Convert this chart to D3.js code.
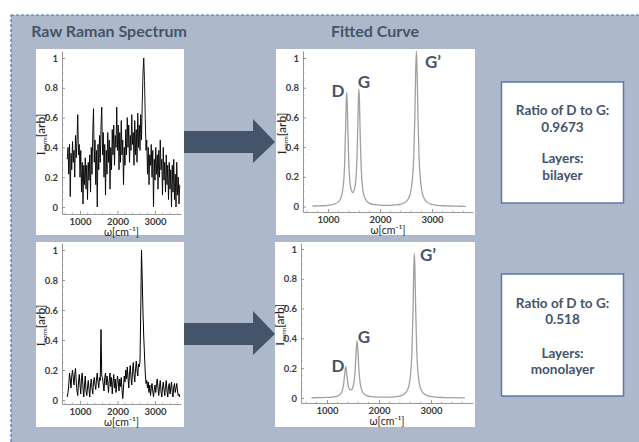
<!DOCTYPE html>
<html><head><meta charset="utf-8">
<script src="https://cdn.jsdelivr.net/npm/d3@7"></script>
<style>html,body{margin:0;padding:0;background:#fff;}svg{display:block;}</style>
</head><body>
<script>
// ---------- DATA ----------
const panelTitles = ["Raw Raman Spectrum", "Fitted Curve"];
const yTicks = [0, 0.2, 0.4, 0.6, 0.8, 1];
const yTickLabels = ["0", "0.2", "0.4", "0.6", "0.8", "1"];
const xTicks = [1000, 2000, 3000];
const xTickLabels = ["1000", "2000", "3000"];
const peakLabels = ["D", "G", "G\u2019"];

const rawX = [660,680,700,720,740,760,780,800,820,840,
  860,880,900,920,940,960,980,1000,1020,1040,
  1060,1080,1100,1120,1140,1160,1180,1200,1220,1240,
  1260,1280,1300,1320,1340,1360,1380,1400,1420,1440,
  1460,1480,1500,1520,1540,1560,1580,1600,1620,1640,
  1660,1680,1700,1720,1740,1760,1780,1800,1820,1840,
  1860,1880,1900,1920,1940,1960,1980,2000,2020,2040,
  2060,2080,2100,2120,2140,2160,2180,2200,2220,2240,
  2260,2280,2300,2320,2340,2360,2380,2400,2420,2440,
  2460,2480,2500,2520,2540,2560,2580,2600,2620,2640,
  2660,2680,2700,2720,2740,2760,2780,2800,2820,2840,
  2860,2880,2900,2920,2940,2960,2980,3000,3020,3040,
  3060,3080,3100,3120,3140,3160,3180,3200,3220,3240,
  3260,3280,3300,3320,3340,3360,3380,3400,3420,3440,
  3460,3480,3500,3520,3540,3560,3580,3600,3620,3640,
  3660];
const rawTop = [0.32,0.40,0.22,0.42,0.07,0.36,0.25,0.44,0.30,0.38,
  0.20,0.48,0.33,0.45,0.62,0.35,0.42,0.20,0.38,0.10,
  0.30,0.02,0.28,0.15,0.33,0.12,0.28,0.05,0.30,0.18,
  0.35,0.10,0.40,0.22,0.50,0.66,0.30,0.45,0.15,0.38,
  0.00,0.42,0.25,0.48,0.30,0.55,0.67,0.35,0.50,0.20,
  0.42,0.08,0.38,0.22,0.50,0.30,0.45,0.12,0.40,0.25,
  0.52,0.35,0.55,0.28,0.48,0.40,0.67,0.38,0.55,0.25,
  0.50,0.30,0.58,0.35,0.45,0.15,0.40,0.28,0.52,0.35,
  0.60,0.40,0.55,0.30,0.48,0.38,0.62,0.42,0.50,0.28,
  0.58,0.35,0.52,0.30,0.63,0.40,0.55,0.38,0.62,0.45,
  0.70,0.90,1.00,0.85,0.60,0.38,0.45,0.22,0.40,0.15,
  0.35,0.28,0.42,0.20,0.38,0.00,0.32,0.18,0.40,0.22,
  0.35,0.12,0.38,0.20,0.45,0.25,0.32,0.08,0.40,0.18,
  0.30,0.10,0.35,0.15,0.28,0.05,0.30,0.12,0.25,0.00,
  0.28,0.10,0.32,0.05,0.22,0.00,0.30,0.08,0.20,0.02,
  0.15];
const rawBottom = [0.02,0.05,0.10,0.18,0.14,0.08,0.16,0.20,0.15,0.10,
  0.17,0.21,0.12,0.06,0.03,0.12,0.17,0.10,0.04,0.15,
  0.18,0.08,0.02,0.10,0.16,0.06,0.03,0.08,0.13,0.07,
  0.02,0.10,0.14,0.08,0.04,0.12,0.15,0.10,0.07,0.14,
  0.18,0.12,0.08,0.15,0.13,0.47,0.16,0.15,0.10,0.06,
  0.15,0.18,0.10,0.16,0.12,0.05,0.13,0.18,0.09,0.15,
  0.04,0.12,0.17,0.08,0.14,0.05,0.10,0.16,0.12,0.06,
  0.14,0.09,0.15,0.07,0.01,0.08,0.16,0.12,0.20,0.14,
  0.22,0.15,0.08,0.18,0.23,0.15,0.10,0.19,0.25,0.17,
  0.12,0.20,0.26,0.20,0.16,0.24,0.22,0.26,0.60,1.00,
  0.80,0.58,0.42,0.30,0.18,0.11,0.13,0.08,0.12,0.05,
  0.10,0.03,0.08,0.11,0.06,0.02,0.07,0.10,0.05,0.11,
  0.14,0.08,0.03,0.09,0.13,0.06,0.02,0.08,0.12,0.07,
  0.03,0.09,0.13,0.06,0.02,0.09,0.11,0.04,0.08,0.12,
  0.05,0.02,0.09,0.11,0.05,0.08,0.11,0.06,0.03,0.04,
  0.02];

const fitTopX = [700,800,900,1000,1100,1200,1250,1300,1320,1340,1350,1360,1370,1380,1400,1420,1450,1480,1500,1520,1540,1560,1575,1585,1595,1605,1615,1630,1650,1680,1720,1800,1900,2000,2100,2200,2300,2400,2500,2550,2600,2630,2650,2670,2685,2700,2715,2730,2750,2770,2800,2850,2900,3000,3100,3200,3300,3400,3500,3600,3650];
const fitTopY = [0.003,0.004,0.005,0.008,0.014,0.031,0.060,0.163,0.287,0.544,0.705,0.77,0.694,0.538,0.29,0.174,0.108,0.094,0.105,0.135,0.201,0.35,0.562,0.724,0.79,0.714,0.551,0.34,0.187,0.093,0.049,0.021,0.012,0.0086,0.008,0.008,0.0105,0.016,0.033,0.056,0.116,0.211,0.345,0.605,0.887,1.05,0.887,0.605,0.345,0.21,0.115,0.054,0.031,0.014,0.008,0.0051,0.0036,0.0026,0.002,0.0015,0.0013];
const fitBottomX = [700,800,900,1000,1100,1200,1250,1290,1320,1340,1360,1380,1400,1430,1470,1500,1520,1540,1560,1578,1596,1615,1640,1670,1710,1760,1850,2000,2150,2300,2400,2480,2540,2580,2610,2635,2655,2670,2680,2690,2705,2725,2750,2780,2820,2880,2960,3100,3250,3400,3550,3650];
const fitBottomY = [0.0014,0.002,0.0025,0.0037,0.006,0.013,0.023,0.046,0.094,0.159,0.21,0.162,0.101,0.060,0.055,0.0755,0.110,0.181,0.306,0.385,0.304,0.183,0.095,0.051,0.028,0.016,0.0086,0.0053,0.0053,0.008,0.013,0.025,0.049,0.090,0.168,0.326,0.602,0.884,0.97,0.884,0.602,0.326,0.168,0.090,0.048,0.025,0.0125,0.0056,0.003,0.0019,0.0013,0.001];

const ratioLabels = ["0.9673", "0.518"];
const layerLabels = ["bilayer", "monolayer"];

// ---------- DRAW ----------
const W = 639, H = 442;
const C = { panel: "#adb9ca", dash: "#4472c4", dark: "#44546a", axis: "#8c8c8c", tick: "#3a3a3a", fit: "#a0a0a0" };
const svg = d3.select("body").append("svg").attr("width", W).attr("height", H);
svg.append("rect").attr("width", W).attr("height", H).attr("fill", "#fff");
svg.append("rect").attr("x", 11).attr("y", 15).attr("width", W).attr("height", H)
  .attr("fill", C.panel).attr("stroke", C.dash).attr("stroke-width", 1.2).attr("stroke-dasharray", "3,2");

svg.append("text").attr("x", 109).attr("y", 37).attr("text-anchor", "middle")
  .attr("font-family", "Lato, 'Open Sans', sans-serif").attr("font-weight", 700).attr("font-size", 16)
  .attr("fill", C.dark).text(panelTitles[0]);
svg.append("text").attr("x", 375).attr("y", 37).attr("text-anchor", "middle")
  .attr("font-family", "Lato, 'Open Sans', sans-serif").attr("font-weight", 700).attr("font-size", 16)
  .attr("fill", C.dark).text(panelTitles[1]);

function arrow(cy) {
  const p = d3.path();
  p.moveTo(184, cy - 11); p.lineTo(253, cy - 11); p.lineTo(253, cy - 23); p.lineTo(275, cy);
  p.lineTo(253, cy + 21); p.lineTo(253, cy + 11); p.lineTo(184, cy + 11); p.closePath();
  svg.append("path").attr("d", p.toString()).attr("fill", C.dark);
}
arrow(142); arrow(334);

let clipId = 0;
function plot(cfg) {
  svg.append("rect").attr("x", cfg.bx).attr("y", cfg.by).attr("width", cfg.bw).attr("height", cfg.bh).attr("fill", "#fff");
  const g = svg.append("g");
  const xs0 = d3.scaleLinear().domain([1000, 3000]).range([cfg.p1000, cfg.p3000]);
  const x = d3.scaleLinear().domain([xs0.invert(cfg.axL), xs0.invert(cfg.axR)]).range([cfg.axL, cfg.axR]);
  const ys0 = d3.scaleLinear().domain([0, 1]).range([cfg.y0, cfg.y1]);
  const y = d3.scaleLinear().domain([ys0.invert(cfg.axB), ys0.invert(cfg.axT)]).range([cfg.axB, cfg.axT]);
  const font = "Lato, 'Open Sans', sans-serif";

  const yMinor = [0.05,0.1,0.15,0.25,0.3,0.35,0.45,0.5,0.55,0.65,0.7,0.75,0.85,0.9,0.95];
  g.selectAll(".ym").data(yMinor).join("line").attr("x1", cfg.axL).attr("x2", cfg.axL + 1.5)
    .attr("y1", d => y(d)).attr("y2", d => y(d)).attr("stroke", C.axis).attr("stroke-width", 0.6);
  const xMinor = d3.range(600, 3800, 200).filter(v => v % 1000 !== 0 && x(v) > cfg.axL + 1 && x(v) < cfg.axR);
  g.selectAll(".xm").data(xMinor).join("line").attr("y1", cfg.axB).attr("y2", cfg.axB - 1.5)
    .attr("x1", d => x(d)).attr("x2", d => x(d)).attr("stroke", C.axis).attr("stroke-width", 0.6);

  const ya = g.append("g").attr("transform", `translate(${cfg.axL},0)`)
    .call(d3.axisLeft(y).tickValues(yTicks).tickFormat((d, i) => yTickLabels[i]).tickSize(-3).tickSizeOuter(0).tickPadding(4));
  const xa = g.append("g").attr("transform", `translate(0,${cfg.axB})`)
    .call(d3.axisBottom(x).tickValues(xTicks).tickFormat((d, i) => xTickLabels[i]).tickSize(-3).tickSizeOuter(0).tickPadding(4));
  [ya, xa].forEach(a => {
    a.select(".domain").attr("stroke", C.axis).attr("stroke-width", 0.9);
    a.selectAll(".tick line").attr("stroke", C.axis).attr("stroke-width", 0.9);
    a.selectAll(".tick text").attr("font-family", font).attr("font-size", 9.5).attr("font-weight", 700).attr("fill", C.tick);
  });

  const id = "clip" + (clipId++);
  svg.append("clipPath").attr("id", id).append("rect")
    .attr("x", cfg.axL).attr("y", cfg.axT).attr("width", cfg.axR - cfg.axL).attr("height", cfg.axB - cfg.axT);
  const line = d3.line().x(d => x(d[0])).y(d => y(d[1]));
  if (cfg.curve) line.curve(cfg.curve);
  g.append("path").attr("clip-path", `url(#${id})`).datum(cfg.xs.map((v, i) => [v, cfg.ys[i]]))
    .attr("d", line).attr("fill", "none").attr("stroke", cfg.stroke).attr("stroke-width", cfg.sw)
    .attr("stroke-linejoin", "round");

  const yl = g.append("text").attr("transform", `translate(${cfg.axL - 17},${(cfg.axT + cfg.axB) / 2 + 2}) rotate(-90)`)
    .attr("text-anchor", "middle").attr("fill", "#222").attr("font-size", 12);
  yl.append("tspan").attr("font-family", "'Liberation Serif', serif").attr("font-size", 13).text("I");
  yl.append("tspan").attr("font-family", font).attr("font-size", 6).attr("dy", 2).text("norm");
  yl.append("tspan").attr("font-family", font).attr("font-size", 12).attr("dy", -2).text("[arb]");
  g.append("text").attr("x", (cfg.axL + cfg.axR) / 2).attr("y", cfg.axB + 22).attr("text-anchor", "middle")
    .attr("font-family", font).attr("font-size", 10.5).attr("fill", "#222").text("\u03c9[cm\u207b\u00b9]");
  return { x, y, g };
}

plot({ bx: 36, by: 49, bw: 148, bh: 186, axL: 62, axR: 181, axB: 214, axT: 51, y0: 207, y1: 58,
  p1000: 80, p3000: 155, xs: rawX, ys: rawTop, stroke: "#000", sw: 0.9 });
plot({ bx: 36, by: 242, bw: 148, bh: 185, axL: 62, axR: 181, axB: 404, axT: 243, y0: 400, y1: 250,
  p1000: 80, p3000: 155, xs: rawX, ys: rawBottom, stroke: "#000", sw: 1 });
plot({ bx: 276, by: 49, bw: 199, bh: 186, axL: 303, axR: 473, axB: 212, axT: 51, y0: 206.5, y1: 58,
  p1000: 328, p3000: 432, xs: fitTopX, ys: fitTopY, stroke: C.fit, sw: 1.3, curve: d3.curveMonotoneX });
plot({ bx: 275, by: 242, bw: 200, bh: 185, axL: 301, axR: 473, axB: 403, axT: 243, y0: 398, y1: 249,
  p1000: 327, p3000: 431, xs: fitBottomX, ys: fitBottomY, stroke: C.fit, sw: 1.3, curve: d3.curveMonotoneX });

function peakLabel(x, y, t) {
  svg.append("text").attr("x", x).attr("y", y).attr("text-anchor", "middle").attr("dominant-baseline", "central")
    .attr("font-family", "Lato, 'Open Sans', sans-serif").attr("font-weight", 700).attr("font-size", 17)
    .attr("fill", C.dark).text(t);
}
peakLabel(338, 90, peakLabels[0]); peakLabel(364, 81, peakLabels[1]); peakLabel(433, 61, peakLabels[2]);
peakLabel(338, 365, peakLabels[0]); peakLabel(364, 336, peakLabels[1]); peakLabel(428, 254, peakLabels[2]);

function infoBox(y, h, ratio, layer, lineYs) {
  svg.append("rect").attr("x", 501.5).attr("y", y).attr("width", 122).attr("height", h)
    .attr("fill", "#fff").attr("stroke", "#5a78ac").attr("stroke-width", 1.5);
  const lines = ["Ratio of D to G:", ratio, "Layers:", layer];
  lines.forEach((t, i) => {
    svg.append("text").attr("x", 562.5).attr("y", lineYs[i]).attr("text-anchor", "middle").attr("dominant-baseline", "central")
      .attr("font-family", "Lato, 'Open Sans', sans-serif").attr("font-weight", 700).attr("font-size", 13.5)
      .attr("fill", C.dark).text(t);
  });
}
infoBox(82, 121, ratioLabels[0], layerLabels[0], [110, 127, 158, 175]);
infoBox(274, 122, ratioLabels[1], layerLabels[1], [303, 319, 353, 369]);
</script>
</body></html>
